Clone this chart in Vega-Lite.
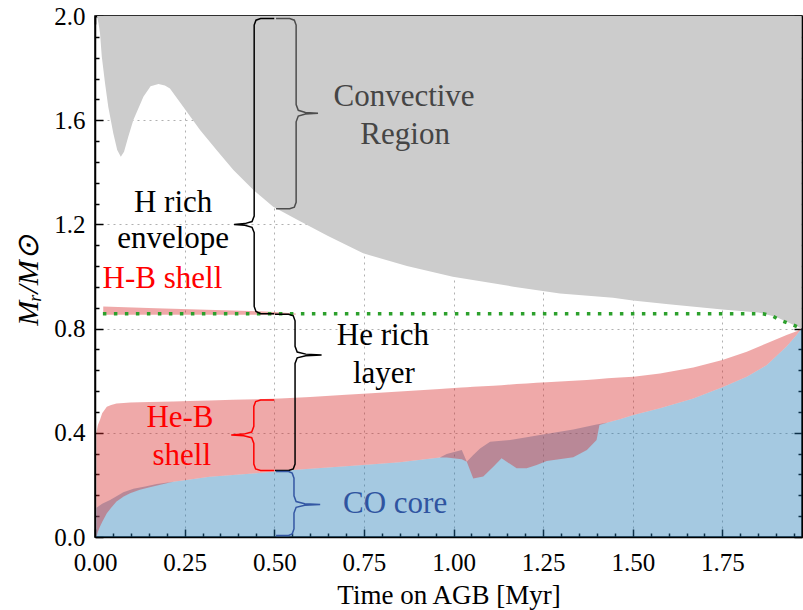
{
  "$schema": "https://vega.github.io/schema/vega-lite/v6.json",
  "width": 707,
  "height": 521,
  "autosize": {"type": "none"},
  "padding": {"left": 95, "top": 16, "right": 1, "bottom": 73},
  "background": "white",
  "config": {
    "view": {"stroke": "black", "strokeWidth": 1.5},
    "font": "Liberation Serif",
    "axis": {
      "labelFont": "Liberation Serif", "titleFont": "Liberation Serif",
      "labelFontSize": 25, "titleFontSize": 27, "titleFontWeight": "normal",
      "labelColor": "black", "titleColor": "black",
      "domainColor": "black", "domainWidth": 1.5,
      "tickColor": "black", "tickWidth": 1.5,
      "gridColor": "#b0b0b0", "gridDash": [2, 4], "gridWidth": 1,
      "zindex": 1, "labelOverlap": false, "labelFlush": false, "labelBound": false
    },
    "text": {"font": "Liberation Serif"}
  },
  "datasets": {
    "gray": [
      {"t": 0.0056, "lo": 2.0}, {"t": 0.01, "lo": 1.97}, {"t": 0.014, "lo": 1.934}, {"t": 0.019, "lo": 1.844},
      {"t": 0.028, "lo": 1.742}, {"t": 0.037, "lo": 1.652}, {"t": 0.051, "lo": 1.55}, {"t": 0.062, "lo": 1.486},
      {"t": 0.072, "lo": 1.46}, {"t": 0.081, "lo": 1.479}, {"t": 0.093, "lo": 1.537}, {"t": 0.107, "lo": 1.601},
      {"t": 0.135, "lo": 1.69}, {"t": 0.155, "lo": 1.73}, {"t": 0.177, "lo": 1.739}, {"t": 0.195, "lo": 1.733},
      {"t": 0.209, "lo": 1.722}, {"t": 0.246, "lo": 1.652}, {"t": 0.293, "lo": 1.562}, {"t": 0.339, "lo": 1.486},
      {"t": 0.386, "lo": 1.409}, {"t": 0.442, "lo": 1.332}, {"t": 0.497, "lo": 1.268}, {"t": 0.572, "lo": 1.212},
      {"t": 0.65, "lo": 1.155}, {"t": 0.748, "lo": 1.089}, {"t": 0.87, "lo": 1.04}, {"t": 0.998, "lo": 0.999},
      {"t": 1.167, "lo": 0.961}, {"t": 1.297, "lo": 0.935}, {"t": 1.445, "lo": 0.918}, {"t": 1.5, "lo": 0.908},
      {"t": 1.6, "lo": 0.893}, {"t": 1.75, "lo": 0.873}, {"t": 1.85, "lo": 0.862}, {"t": 1.9, "lo": 0.845},
      {"t": 1.94, "lo": 0.82}, {"t": 1.971, "lo": 0.8}
    ],
    "blue": [
      {"t": 0.003, "top": 0.0}, {"t": 0.004, "top": 0.112}, {"t": 0.02, "top": 0.128}, {"t": 0.042, "top": 0.142},
      {"t": 0.06, "top": 0.156}, {"t": 0.079, "top": 0.172}, {"t": 0.107, "top": 0.185}, {"t": 0.14, "top": 0.194},
      {"t": 0.172, "top": 0.203}, {"t": 0.218, "top": 0.212}, {"t": 0.265, "top": 0.221}, {"t": 0.32, "top": 0.231},
      {"t": 0.385, "top": 0.238}, {"t": 0.45, "top": 0.245}, {"t": 0.516, "top": 0.253}, {"t": 0.6, "top": 0.262},
      {"t": 0.7, "top": 0.272}, {"t": 0.748, "top": 0.276}, {"t": 0.85, "top": 0.287}, {"t": 0.962, "top": 0.305},
      {"t": 0.981, "top": 0.319}, {"t": 1.023, "top": 0.334}, {"t": 1.037, "top": 0.289}, {"t": 1.055, "top": 0.315},
      {"t": 1.074, "top": 0.34}, {"t": 1.102, "top": 0.366}, {"t": 1.158, "top": 0.372}, {"t": 1.204, "top": 0.383},
      {"t": 1.241, "top": 0.392}, {"t": 1.334, "top": 0.413}, {"t": 1.399, "top": 0.432}, {"t": 1.407, "top": 0.434},
      {"t": 1.43, "top": 0.44}, {"t": 1.464, "top": 0.452}, {"t": 1.502, "top": 0.468}, {"t": 1.576, "top": 0.494},
      {"t": 1.669, "top": 0.532}, {"t": 1.75, "top": 0.575}, {"t": 1.818, "top": 0.615}, {"t": 1.874, "top": 0.66},
      {"t": 1.929, "top": 0.731}, {"t": 1.957, "top": 0.775}, {"t": 1.971, "top": 0.801}
    ],
    "red": [
      {"t": 0.004, "lo": 0.0, "hi": 0.4}, {"t": 0.008, "lo": 0.02, "hi": 0.43}, {"t": 0.014, "lo": 0.04, "hi": 0.45},
      {"t": 0.02, "lo": 0.058, "hi": 0.475}, {"t": 0.033, "lo": 0.091, "hi": 0.5}, {"t": 0.045, "lo": 0.112, "hi": 0.507},
      {"t": 0.06, "lo": 0.136, "hi": 0.512}, {"t": 0.08, "lo": 0.155, "hi": 0.514}, {"t": 0.098, "lo": 0.168, "hi": 0.516},
      {"t": 0.125, "lo": 0.181, "hi": 0.517}, {"t": 0.153, "lo": 0.191, "hi": 0.518}, {"t": 0.185, "lo": 0.202, "hi": 0.519},
      {"t": 0.218, "lo": 0.212, "hi": 0.52}, {"t": 0.265, "lo": 0.221, "hi": 0.522}, {"t": 0.32, "lo": 0.231, "hi": 0.524},
      {"t": 0.385, "lo": 0.238, "hi": 0.527}, {"t": 0.45, "lo": 0.245, "hi": 0.529}, {"t": 0.516, "lo": 0.253, "hi": 0.532},
      {"t": 0.6, "lo": 0.262, "hi": 0.537}, {"t": 0.7, "lo": 0.272, "hi": 0.546}, {"t": 0.748, "lo": 0.276, "hi": 0.55},
      {"t": 0.85, "lo": 0.287, "hi": 0.559}, {"t": 0.962, "lo": 0.305, "hi": 0.568}, {"t": 0.981, "lo": 0.305, "hi": 0.57},
      {"t": 1.023, "lo": 0.298, "hi": 0.574}, {"t": 1.037, "lo": 0.289, "hi": 0.575}, {"t": 1.055, "lo": 0.225, "hi": 0.577},
      {"t": 1.083, "lo": 0.232, "hi": 0.579}, {"t": 1.111, "lo": 0.27, "hi": 0.581}, {"t": 1.134, "lo": 0.302, "hi": 0.583},
      {"t": 1.176, "lo": 0.264, "hi": 0.587}, {"t": 1.204, "lo": 0.264, "hi": 0.589}, {"t": 1.232, "lo": 0.276, "hi": 0.592},
      {"t": 1.26, "lo": 0.292, "hi": 0.594}, {"t": 1.334, "lo": 0.306, "hi": 0.6}, {"t": 1.372, "lo": 0.334, "hi": 0.603},
      {"t": 1.399, "lo": 0.372, "hi": 0.606}, {"t": 1.407, "lo": 0.43, "hi": 0.607}, {"t": 1.43, "lo": 0.44, "hi": 0.609},
      {"t": 1.464, "lo": 0.452, "hi": 0.612}, {"t": 1.502, "lo": 0.468, "hi": 0.615}, {"t": 1.576, "lo": 0.494, "hi": 0.628},
      {"t": 1.669, "lo": 0.532, "hi": 0.651}, {"t": 1.75, "lo": 0.575, "hi": 0.679}, {"t": 1.818, "lo": 0.615, "hi": 0.711},
      {"t": 1.874, "lo": 0.66, "hi": 0.744}, {"t": 1.929, "lo": 0.731, "hi": 0.775}, {"t": 1.957, "lo": 0.775, "hi": 0.79},
      {"t": 1.971, "lo": 0.801, "hi": 0.801}
    ],
    "hb": [
      {"t": 0.023, "lo": 0.853, "hi": 0.885}, {"t": 0.17, "lo": 0.853, "hi": 0.878}, {"t": 0.43, "lo": 0.853, "hi": 0.868},
      {"t": 0.5, "lo": 0.853, "hi": 0.864}, {"t": 0.56, "lo": 0.853, "hi": 0.858}
    ],
    "green": [
      {"t": 0.022, "v": 0.857}, {"t": 1.0, "v": 0.857}, {"t": 1.863, "v": 0.857}, {"t": 1.89, "v": 0.848},
      {"t": 1.91, "v": 0.833}, {"t": 1.947, "v": 0.814}, {"t": 1.971, "v": 0.8}
    ],
    "braces": [
      {"b": "hrich", "i": 1, "t": 0.5, "v": 1.99}, {"b": "hrich", "i": 2, "t": 0.462, "v": 1.99}, {"b": "hrich", "i": 3, "t": 0.449, "v": 1.984},
      {"b": "hrich", "i": 4, "t": 0.444, "v": 1.965}, {"b": "hrich", "i": 5, "t": 0.444, "v": 1.232}, {"b": "hrich", "i": 6, "t": 0.438, "v": 1.211},
      {"b": "hrich", "i": 7, "t": 0.418, "v": 1.203}, {"b": "hrich", "i": 8, "t": 0.388, "v": 1.2}, {"b": "hrich", "i": 9, "t": 0.418, "v": 1.197},
      {"b": "hrich", "i": 10, "t": 0.438, "v": 1.189}, {"b": "hrich", "i": 11, "t": 0.444, "v": 1.168}, {"b": "hrich", "i": 12, "t": 0.444, "v": 0.885},
      {"b": "hrich", "i": 13, "t": 0.449, "v": 0.866}, {"b": "hrich", "i": 14, "t": 0.462, "v": 0.857}, {"b": "hrich", "i": 15, "t": 0.5, "v": 0.857},
      {"b": "conv", "i": 1, "t": 0.505, "v": 1.99}, {"b": "conv", "i": 2, "t": 0.543, "v": 1.99}, {"b": "conv", "i": 3, "t": 0.556, "v": 1.984},
      {"b": "conv", "i": 4, "t": 0.561, "v": 1.965}, {"b": "conv", "i": 5, "t": 0.561, "v": 1.66}, {"b": "conv", "i": 6, "t": 0.567, "v": 1.638},
      {"b": "conv", "i": 7, "t": 0.587, "v": 1.63}, {"b": "conv", "i": 8, "t": 0.622, "v": 1.627}, {"b": "conv", "i": 9, "t": 0.587, "v": 1.624},
      {"b": "conv", "i": 10, "t": 0.567, "v": 1.616}, {"b": "conv", "i": 11, "t": 0.561, "v": 1.594}, {"b": "conv", "i": 12, "t": 0.561, "v": 1.285},
      {"b": "conv", "i": 13, "t": 0.556, "v": 1.266}, {"b": "conv", "i": 14, "t": 0.543, "v": 1.26}, {"b": "conv", "i": 15, "t": 0.505, "v": 1.26},
      {"b": "herich", "i": 1, "t": 0.502, "v": 0.855}, {"b": "herich", "i": 2, "t": 0.54, "v": 0.855}, {"b": "herich", "i": 3, "t": 0.553, "v": 0.849},
      {"b": "herich", "i": 4, "t": 0.558, "v": 0.83}, {"b": "herich", "i": 5, "t": 0.558, "v": 0.732}, {"b": "herich", "i": 6, "t": 0.564, "v": 0.71},
      {"b": "herich", "i": 7, "t": 0.588, "v": 0.702}, {"b": "herich", "i": 8, "t": 0.632, "v": 0.699}, {"b": "herich", "i": 9, "t": 0.588, "v": 0.696},
      {"b": "herich", "i": 10, "t": 0.564, "v": 0.688}, {"b": "herich", "i": 11, "t": 0.558, "v": 0.666}, {"b": "herich", "i": 12, "t": 0.558, "v": 0.28},
      {"b": "herich", "i": 13, "t": 0.553, "v": 0.261}, {"b": "herich", "i": 14, "t": 0.54, "v": 0.255}, {"b": "herich", "i": 15, "t": 0.502, "v": 0.255},
      {"b": "heb", "i": 1, "t": 0.5, "v": 0.526}, {"b": "heb", "i": 2, "t": 0.462, "v": 0.526}, {"b": "heb", "i": 3, "t": 0.448, "v": 0.52},
      {"b": "heb", "i": 4, "t": 0.443, "v": 0.501}, {"b": "heb", "i": 5, "t": 0.443, "v": 0.425}, {"b": "heb", "i": 6, "t": 0.437, "v": 0.403},
      {"b": "heb", "i": 7, "t": 0.415, "v": 0.395}, {"b": "heb", "i": 8, "t": 0.38, "v": 0.392}, {"b": "heb", "i": 9, "t": 0.415, "v": 0.389},
      {"b": "heb", "i": 10, "t": 0.437, "v": 0.381}, {"b": "heb", "i": 11, "t": 0.443, "v": 0.359}, {"b": "heb", "i": 12, "t": 0.443, "v": 0.28},
      {"b": "heb", "i": 13, "t": 0.448, "v": 0.261}, {"b": "heb", "i": 14, "t": 0.462, "v": 0.255}, {"b": "heb", "i": 15, "t": 0.5, "v": 0.255},
      {"b": "co", "i": 1, "t": 0.505, "v": 0.251}, {"b": "co", "i": 2, "t": 0.54, "v": 0.251}, {"b": "co", "i": 3, "t": 0.55, "v": 0.245},
      {"b": "co", "i": 4, "t": 0.555, "v": 0.226}, {"b": "co", "i": 5, "t": 0.555, "v": 0.158}, {"b": "co", "i": 6, "t": 0.561, "v": 0.136},
      {"b": "co", "i": 7, "t": 0.585, "v": 0.128}, {"b": "co", "i": 8, "t": 0.628, "v": 0.125}, {"b": "co", "i": 9, "t": 0.585, "v": 0.122},
      {"b": "co", "i": 10, "t": 0.561, "v": 0.114}, {"b": "co", "i": 11, "t": 0.555, "v": 0.092}, {"b": "co", "i": 12, "t": 0.555, "v": 0.031},
      {"b": "co", "i": 13, "t": 0.55, "v": 0.012}, {"b": "co", "i": 14, "t": 0.54, "v": 0.006}, {"b": "co", "i": 15, "t": 0.505, "v": 0.006}
    ],
    "labels": [
      {"t": 0.862, "v": 1.654, "label": "Convective", "g": "gray"},
      {"t": 0.865, "v": 1.509, "label": "Region", "g": "gray"},
      {"t": 0.218, "v": 1.248, "label": "H rich", "g": "black"},
      {"t": 0.218, "v": 1.109, "label": "envelope", "g": "black"},
      {"t": 0.188, "v": 0.955, "label": "H-B shell", "g": "red"},
      {"t": 0.803, "v": 0.737, "label": "He rich", "g": "black"},
      {"t": 0.806, "v": 0.59, "label": "layer", "g": "black"},
      {"t": 0.237, "v": 0.424, "label": "He-B", "g": "red"},
      {"t": 0.242, "v": 0.276, "label": "shell", "g": "red"},
      {"t": 0.837, "v": 0.091, "label": "CO core", "g": "blue"}
    ]
  },
  "resolve": {"axis": {"x": "independent", "y": "independent"}, "scale": {"color": "independent"}},
  "layer": [
    {
      "data": {"name": "gray"},
      "mark": {"type": "area", "color": "#cccccc"},
      "encoding": {
        "x": {"field": "t", "type": "quantitative", "scale": {"domain": [0, 1.972], "nice": false, "zero": false},
          "axis": {
            "values": [0, 0.05, 0.1, 0.15, 0.2, 0.25, 0.3, 0.35, 0.4, 0.45, 0.5, 0.55, 0.6, 0.65, 0.7, 0.75, 0.8, 0.85, 0.9, 0.95, 1.0, 1.05, 1.1, 1.15, 1.2, 1.25, 1.3, 1.35, 1.4, 1.45, 1.5, 1.55, 1.6, 1.65, 1.7, 1.75, 1.8, 1.85, 1.9, 1.95],
            "tickSize": {"condition": {"test": "abs(datum.value*4-round(datum.value*4))<0.001", "value": -8}, "value": -4},
            "labelExpr": "abs(datum.value*4-round(datum.value*4))<0.001 ? format(datum.value, '.2f') : ''",
            "grid": true,
            "gridOpacity": {"condition": {"test": "abs(datum.value*4-round(datum.value*4))<0.001 && datum.value > 0.01", "value": 1}, "value": 0},
            "labelPadding": 21,
            "title": "Time on AGB [Myr]",
            "titleY": 66, "titleBaseline": "alphabetic"
          }},
        "y": {"field": "lo", "type": "quantitative", "scale": {"domain": [0, 2], "nice": false, "zero": false},
          "axis": {
            "values": [0, 0.08, 0.16, 0.24, 0.32, 0.4, 0.48, 0.56, 0.64, 0.72, 0.8, 0.88, 0.96, 1.04, 1.12, 1.2, 1.28, 1.36, 1.44, 1.52, 1.6, 1.68, 1.76, 1.84, 1.92, 2.0],
            "tickSize": {"condition": {"test": "abs(datum.value/0.4-round(datum.value/0.4))<0.001", "value": -8}, "value": -4},
            "labelExpr": "abs(datum.value/0.4-round(datum.value/0.4))<0.001 ? format(datum.value, '.1f') : ''",
            "grid": true,
            "gridOpacity": {"condition": {"test": "abs(datum.value/0.4-round(datum.value/0.4))<0.001 && datum.value > 0.01 && datum.value < 1.99", "value": 1}, "value": 0},
            "labelPadding": 18,
            "title": "Mᵣ/M⊙",
            "titleFontStyle": "italic",
            "titleFontSize": 30,
            "titleX": -58, "titleY": 264, "titleBaseline": "alphabetic", "titleAngle": 270
          }},
        "y2": {"datum": 2}
      }
    },
    {
      "data": {"name": "blue"},
      "mark": {"type": "area", "color": "#1f77b4", "opacity": 0.4},
      "encoding": {
        "x": {"field": "t", "type": "quantitative", "scale": {"domain": [0, 1.972], "nice": false, "zero": false}, "axis": null},
        "y": {"field": "top", "type": "quantitative", "scale": {"domain": [0, 2], "nice": false, "zero": false}, "axis": null},
        "y2": {"datum": 0}
      }
    },
    {
      "data": {"name": "red"},
      "mark": {"type": "area", "color": "#d62728", "opacity": 0.4},
      "encoding": {
        "x": {"field": "t", "type": "quantitative", "scale": {"domain": [0, 1.972], "nice": false, "zero": false}, "axis": null},
        "y": {"field": "lo", "type": "quantitative", "scale": {"domain": [0, 2], "nice": false, "zero": false}, "axis": null},
        "y2": {"field": "hi"}
      }
    },
    {
      "data": {"name": "hb"},
      "mark": {"type": "area", "color": "#d62728", "opacity": 0.4},
      "encoding": {
        "x": {"field": "t", "type": "quantitative", "scale": {"domain": [0, 1.972], "nice": false, "zero": false}, "axis": null},
        "y": {"field": "lo", "type": "quantitative", "scale": {"domain": [0, 2], "nice": false, "zero": false}, "axis": null},
        "y2": {"field": "hi"}
      }
    },
    {
      "data": {"name": "green"},
      "mark": {"type": "line", "color": "#2ca02c", "strokeWidth": 3.5, "strokeDash": [3.5, 7.5]},
      "encoding": {
        "x": {"field": "t", "type": "quantitative", "scale": {"domain": [0, 1.972], "nice": false, "zero": false},
          "axis": {
            "orient": "top",
            "values": [0, 0.05, 0.1, 0.15, 0.2, 0.25, 0.3, 0.35, 0.4, 0.45, 0.5, 0.55, 0.6, 0.65, 0.7, 0.75, 0.8, 0.85, 0.9, 0.95, 1.0, 1.05, 1.1, 1.15, 1.2, 1.25, 1.3, 1.35, 1.4, 1.45, 1.5, 1.55, 1.6, 1.65, 1.7, 1.75, 1.8, 1.85, 1.9, 1.95],
            "tickSize": {"condition": {"test": "abs(datum.value*4-round(datum.value*4))<0.001", "value": -8}, "value": -4},
            "labels": false, "grid": false, "title": null
          }},
        "y": {"field": "v", "type": "quantitative", "scale": {"domain": [0, 2], "nice": false, "zero": false},
          "axis": {
            "orient": "right",
            "values": [0, 0.08, 0.16, 0.24, 0.32, 0.4, 0.48, 0.56, 0.64, 0.72, 0.8, 0.88, 0.96, 1.04, 1.12, 1.2, 1.28, 1.36, 1.44, 1.52, 1.6, 1.68, 1.76, 1.84, 1.92, 2.0],
            "tickSize": {"condition": {"test": "abs(datum.value/0.4-round(datum.value/0.4))<0.001", "value": -8}, "value": -4},
            "labels": false, "grid": false, "title": null
          }}
      }
    },
    {
      "mark": {"type": "rule", "color": "black", "strokeWidth": 1.5, "strokeDash": [6, 3.5]},
      "encoding": {
        "x": {"datum": 0.5, "type": "quantitative", "scale": {"domain": [0, 1.972], "nice": false, "zero": false}, "axis": null}
      }
    },
    {
      "data": {"name": "braces"},
      "mark": {"type": "line", "strokeWidth": 1.5},
      "encoding": {
        "x": {"field": "t", "type": "quantitative", "scale": {"domain": [0, 1.972], "nice": false, "zero": false}, "axis": null},
        "y": {"field": "v", "type": "quantitative", "scale": {"domain": [0, 2], "nice": false, "zero": false}, "axis": null},
        "order": {"field": "i", "type": "quantitative"},
        "color": {"field": "b", "type": "nominal", "legend": null,
          "scale": {"domain": ["hrich", "conv", "herich", "heb", "co"], "range": ["#000000", "#4d4d4d", "#000000", "#ff0000", "#3457a3"]}}
      }
    },
    {
      "data": {"name": "labels"},
      "mark": {"type": "text", "fontSize": 31, "align": "center", "baseline": "alphabetic", "font": "Liberation Serif"},
      "encoding": {
        "x": {"field": "t", "type": "quantitative", "scale": {"domain": [0, 1.972], "nice": false, "zero": false}, "axis": null},
        "y": {"field": "v", "type": "quantitative", "scale": {"domain": [0, 2], "nice": false, "zero": false}, "axis": null},
        "text": {"field": "label"},
        "color": {"field": "g", "type": "nominal", "legend": null,
          "scale": {"domain": ["gray", "black", "red", "blue"], "range": ["#454545", "#000000", "#ff0000", "#2f54a0"]}}
      }
    }
  ]
}
